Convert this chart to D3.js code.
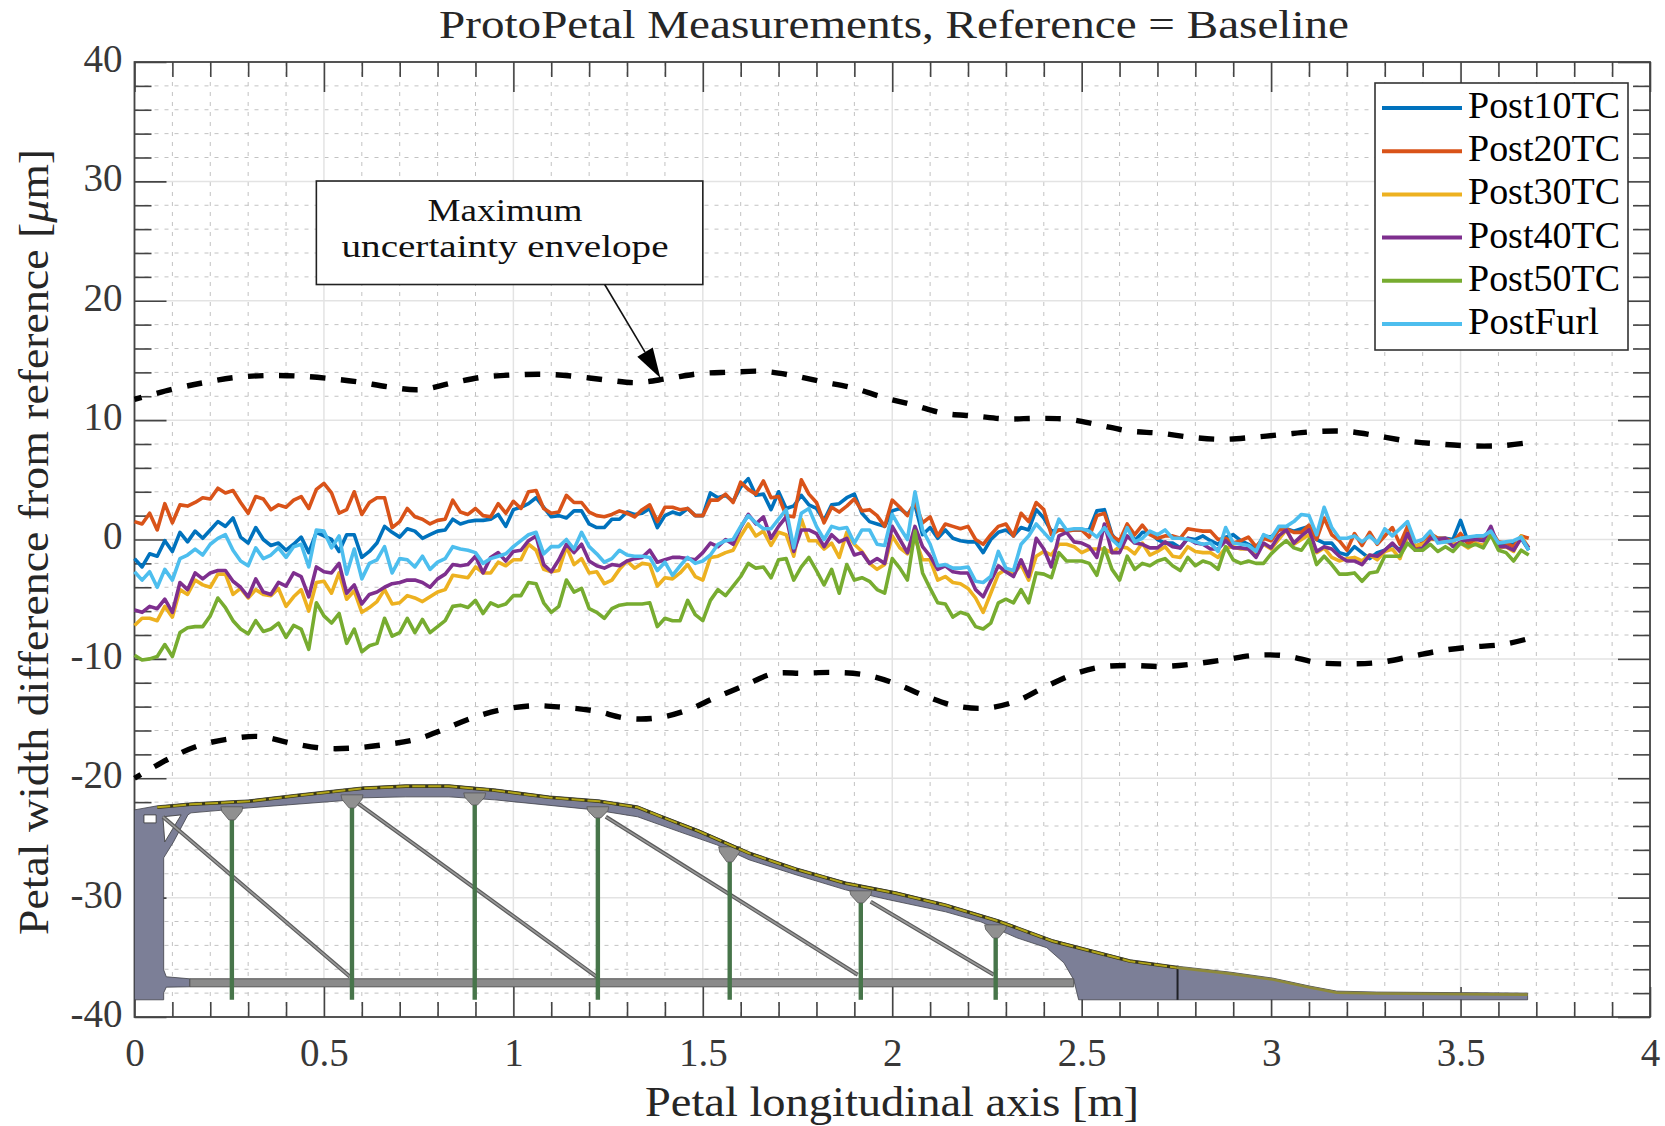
<!DOCTYPE html>
<html>
<head>
<meta charset="utf-8">
<script src="https://cdn.jsdelivr.net/npm/d3@7"></script>
<style>
  html, body { margin: 0; padding: 0; background: #fff; }
  svg { display: block; }
  text { font-family: "Liberation Serif", "DejaVu Serif", serif; }
</style>
</head>
<body>
<svg id="chart" width="1665" height="1126"></svg>
<script>
'use strict'

// petal width difference, micrometres, one sample every 0.02 m
const sampleStep = 0.02

const post10TC = [
  -1.6, -2.3, -1.2, -1.4, -0.1, -1.0, 0.6, -0.2, 0.7, 0.1, 0.8, 1.5, 1.1, 1.8, 0.2, -0.3, 1.0, 0, -0.5, -0.3, -0.9, -0.4, 0.2, -1.1, 0.6, 0.3, 0, -1.0, 0.4, 0.4, -1.5, -1.0, -0.3, 1.1, 0.6, 0.2, 0.9, 0.7, 0.1, 0.4, 0.7, 0.8, 1.7, 1.3, 1.5, 1.6, 1.6, 1.7, 2.1, 1.1, 2.5, 2.7, 3.0, 3.5,
  2.7, 1.9, 2.0, 1.8, 2.4, 2.4, 1.3, 1.0, 1.0, 1.7, 1.7, 2.3, 2.1, 2.2, 2.6, 1.0, 2.0, 2.3, 2.1, 2.6, 2.0, 2.0, 3.9, 3.5, 3.7, 3.2, 4.4, 5.1, 3.7, 3.8, 2.5, 4.0, 2.6, 2.8, 3.7, 2.9, 2.6, 1.6, 2.9, 3.0, 3.5, 3.8, 2.2, 1.5, 1.3, 1.1, 2.4, 2.6, 2.1, 2.9, 0.4, 1.0, 0.1,
  0.8, 0.1, -0.1, -0.2, -0.2, -1.1, 0, 0.6, 0.8, 0.3, 1.0, 0.8, 2.5, 1.8, 0.7, 0.8, 0.8, 0.8, 0.8, 0.8, 2.4, 2.5, 0.4, -0.4, 1.1, -0.1, 0.6, 0.6, 0, -0.3, -0.3, -0.7, 0.1, 0, 0.3, -0.1, -0.4, 0.2, 0.4, -0.1, -0.4, -0.8, 0.3, 0.2, 0.8, 0.9, 0.7, 0.9, 1.1, 0, -0.3, -0.3, -1.1,
  -1.3, -0.6, -1.1, -1.6, -1.1, -0.9, -0.4, -0.9, 0.5, -0.6, -0.3, 0.3, 0.1, 0.1, 0, 1.6, -0.2, 0, 0.1, 0.5, -0.3, -0.4, -0.4, 0.1, -0.9
]
const post20TC = [
  1.5, 1.3, 2.2, 0.8, 3.0, 1.4, 2.9, 2.8, 3.1, 3.5, 3.4, 4.3, 3.9, 4.1, 3.1, 2.2, 3.6, 3.4, 2.5, 2.9, 2.7, 3.3, 3.6, 2.6, 4.2, 4.7, 3.9, 2.2, 2.5, 4.0, 2.1, 3.1, 3.5, 3.5, 1.0, 1.5, 2.6, 1.9, 1.7, 1.3, 1.6, 1.7, 3.3, 2.3, 2.1, 2.6, 2.0, 1.9, 3.0, 2.2, 3.2, 2.6, 4.0, 4.1,
  2.6, 2.2, 2.3, 3.7, 3.1, 3.1, 2.3, 2.0, 1.9, 2.1, 2.4, 2.2, 1.9, 2.5, 2.9, 1.5, 2.7, 2.7, 2.5, 2.6, 2.0, 2.0, 3.3, 3.3, 3.8, 3.1, 4.8, 4.2, 3.8, 4.9, 3.5, 3.6, 2.0, 1.9, 5.0, 3.8, 3.1, 1.4, 2.7, 2.3, 2.8, 3.4, 2.4, 2.5, 2.0, 1.1, 3.3, 2.7, 2.0, 3.1, 1.4, 1.9, 0.3,
  1.3, 1.1, 0.9, 1.1, 0, -0.4, 0.4, 1.1, 1.3, 0.3, 2.2, 1.5, 3.1, 2.5, 0.4, 0.8, 0.7, 0.8, 0.8, 0.2, 2.0, 2.2, 0.3, -0.1, 1.3, 0.4, 1.2, 0.4, 0.1, 0.3, 0.3, 0.1, 0.9, 0.8, 0.7, 0.7, 0, 0.1, -0.3, -0.1, 0.2, -0.6, 0.1, -0.1, 0.8, 0.9, 0.6, 0.6, 1.2, 0, 1.8, 0.4, -0.1,
  -0.9, 0.5, -0.5, 0.6, -0.4, 0.3, 1.0, -0.4, 1.1, -0.7, -0.3, 0.5, 0.1, 0.1, -0.2, 0.5, -0.4, 0, 0.1, 0.8, -0.2, -0.3, -0.6, 0.3, 0.1
]
const post30TC = [
  -7.2, -6.6, -6.6, -6.8, -5.6, -6.5, -4.2, -4.6, -3.4, -3.8, -4.0, -2.9, -2.9, -4.6, -4.1, -4.9, -4.2, -4.6, -4.7, -4.1, -5.6, -4.8, -4.2, -6.0, -3.6, -3.5, -4.5, -2.8, -5.0, -4.3, -6.1, -5.7, -5.2, -4.2, -5.4, -5.3, -4.7, -4.9, -5.2, -4.8, -4.4, -4.2, -3.0, -3.1, -3.2, -2.3, -2.8, -2.8, -1.9, -2.2, -1.7, -1.7, -0.4, -0.9,
  -2.5, -2.7, -2.6, -0.6, -2.1, -1.6, -2.8, -2.7, -3.7, -3.4, -2.5, -1.8, -2.4, -2.0, -2.1, -3.9, -3.2, -3.3, -2.8, -2.1, -3.1, -3.4, -1.5, -1.4, -1.1, -0.9, 0.3, 1.3, 0.3, 0.7, -0.5, 0.6, 0.4, -1.4, 1.7, -0.1, -0.1, -0.8, -0.3, -1.5, 0.6, -0.4, -1.0, -2.0, -2.5, -2.1, 0.3, -0.7, -1.2, 0.1, -1.7, -1.7, -3.4,
  -3.1, -3.6, -3.7, -4.1, -4.9, -6.1, -4.5, -2.9, -2.5, -2.9, -2.1, -3.4, -1.4, -1.0, -1.3, -0.4, -0.4, -0.6, -1.1, -0.8, -0.8, -0.8, -1.1, -0.6, -0.7, -1.2, -0.3, -1.3, -1.0, -0.6, -1.4, -1.5, -0.6, -1.0, -1.1, -1.1, -1.5, -0.7, -0.6, -0.8, -0.8, -1.1, -0.4, -0.8, 0, 0.8, -0.4, 0, 0.4, -1.1, -0.7, -1.5, -1.8,
  -1.6, -1.5, -1.8, -1.3, -1.7, -1.0, -0.8, -1.6, 0.3, -0.5, -0.4, 0, 0, -0.2, -0.4, -0.3, -0.7, -0.3, -0.5, 0.4, -0.7, -0.6, -1.0, 0.3, -0.7
]
const post40TC = [
  -5.9, -6.1, -5.6, -5.8, -5.0, -6.1, -3.6, -4.2, -2.8, -3.3, -2.8, -2.6, -2.6, -3.5, -4.0, -4.8, -3.3, -4.4, -4.6, -3.6, -3.9, -2.8, -3.1, -4.8, -2.3, -2.7, -2.8, -2.0, -4.5, -3.8, -5.4, -4.6, -4.4, -4.0, -3.7, -3.6, -3.4, -3.4, -3.6, -4.0, -3.3, -2.9, -2.1, -2.2, -2.1, -1.4, -2.8, -1.5, -1.1, -1.8, -1.0, -0.9, -0.1, 0.3,
  -2.1, -2.7, -1.7, -0.4, -1.1, -0.4, -1.8, -2.2, -2.4, -2.1, -2.2, -1.8, -1.6, -1.5, -0.9, -1.9, -1.7, -1.5, -1.5, -1.6, -1.7, -1.1, -0.3, -0.6, 0, -0.4, 1.0, 2.1, 1.3, 1.9, 0.1, 1.1, 1.9, -1.0, 0.8, 0.8, 0.5, -0.6, 0.4, -0.2, 0.1, -1.3, -1.1, -2.0, -1.6, -2.0, 1.1, 0, -1.1, 1.1, -0.6, -1.4, -2.5,
  -2.2, -2.7, -2.8, -2.8, -4.2, -4.8, -3.5, -2.2, -2.7, -3.1, -1.7, -3.1, 0.1, -0.8, -2.3, 0.3, 0.6, -0.2, -0.3, -0.6, -1.5, 1.3, -1.1, -1.1, 0.3, -0.3, -0.4, -0.7, -0.7, -0.2, -0.6, -0.7, 0.1, -0.3, -0.4, -0.8, -0.8, -0.1, -0.7, -0.7, -0.8, -1.5, -0.3, -0.7, 0.3, 0.8, -0.3, 0.3, 0.8, -1.0, -0.6, -0.8, -1.4,
  -1.8, -1.8, -2.1, -1.3, -1.4, -0.9, -0.3, -1.0, 0.5, -0.9, -0.7, 0.1, 0, 0.1, -0.6, -0.2, 0, 0, -0.1, 1.1, -0.6, -0.6, -0.9, 0.1, -0.7
]
const post50TC = [
  -9.7, -10.1, -10.0, -9.8, -8.8, -9.8, -7.8, -7.4, -7.3, -7.3, -6.4, -4.9, -5.7, -6.8, -7.5, -7.9, -6.8, -7.7, -7.5, -7.0, -8.2, -7.2, -7.5, -9.2, -5.3, -6.4, -7.0, -6.2, -8.7, -7.5, -9.4, -8.9, -8.7, -6.6, -8.1, -7.8, -6.6, -7.8, -6.7, -7.8, -7.3, -6.8, -5.6, -5.5, -5.7, -5.1, -6.2, -5.3, -5.6, -5.4, -4.7, -4.7, -3.6, -3.7,
  -5.3, -6.1, -5.6, -3.4, -4.4, -4.1, -5.8, -6.1, -6.6, -5.8, -5.5, -5.4, -5.4, -5.4, -5.3, -7.3, -6.6, -6.8, -6.8, -5.1, -6.3, -6.8, -5.1, -4.2, -4.7, -3.9, -3.1, -2.0, -2.4, -2.3, -3.2, -1.7, -1.6, -3.4, -2.3, -1.5, -2.6, -3.8, -2.5, -4.5, -2.1, -3.4, -3.2, -3.5, -4.2, -4.5, -1.6, -2.4, -3.4, 0.7, -2.8, -4.1, -5.3,
  -5.4, -6.5, -6.1, -6.3, -7.3, -7.5, -7.0, -5.3, -5.0, -5.3, -4.2, -5.3, -2.8, -2.9, -3.2, -1.1, -1.8, -1.8, -1.8, -2.0, -3.0, -0.7, -2.5, -3.4, -1.4, -2.5, -2.0, -2.2, -1.8, -1.6, -2.2, -2.6, -1.5, -2.2, -1.8, -2.0, -2.5, -0.6, -1.7, -2.0, -1.8, -2.0, -2.0, -1.2, -0.6, -0.1, -0.7, -0.9, 0, -2.1, -1.4, -2.1, -2.9,
  -2.9, -2.8, -3.5, -2.8, -2.7, -1.4, -1.4, -1.4, -0.3, -0.9, -0.9, -0.4, -1.0, -0.6, -1.0, -0.3, -0.6, -0.4, -0.7, 0.4, -0.9, -1.1, -1.8, -0.9, -1.3
]
const postFurl = [
  -2.7, -3.4, -2.7, -4.0, -2.5, -3.4, -1.6, -1.3, -0.8, -1.3, -0.4, 0.1, 0.4, -0.9, -1.8, -2.2, -0.7, -1.6, -1.3, -0.7, -1.5, -0.6, -0.4, -2.3, 0.8, 0.7, -0.7, 0.3, -2.9, -0.8, -3.3, -2.0, -1.7, -0.6, -2.8, -1.6, -1.7, -2.3, -1.4, -2.5, -1.9, -1.6, -0.6, -0.8, -0.9, -1.1, -2.0, -1.6, -1.4, -1.2, -0.6, -0.1, 0.4, 0.6,
  -1.2, -0.6, -0.6, 0, -0.8, 0.6, -0.6, -1.2, -1.9, -1.6, -0.9, -1.3, -1.4, -1.4, -1.5, -2.6, -1.9, -3.0, -2.2, -1.5, -2.0, -1.8, -1.3, -0.4, -0.1, 0, 1.1, 2.0, 1.4, 0.9, 0.9, 1.7, 2.5, -0.7, 2.2, 2.6, 1.1, 0, 1.1, 0.9, 1.0, -0.3, 0.8, 0.8, -0.4, -0.5, 2.1, 1.0, 0, 4.0, 0.8, -0.4, -2.2,
  -2.1, -2.4, -2.4, -2.3, -3.5, -3.6, -3.1, -1.0, -2.4, -2.6, -0.4, 0.3, 1.3, 0.6, -0.1, 1.7, 0.8, 0.9, 0.9, 0.7, 0.2, 1.0, 0, -0.6, 1.0, -0.2, 0.1, 0.7, 0.4, 0.8, 0.1, 0.1, 0, -0.2, -0.4, -0.3, -1.0, 1.0, -0.3, -0.4, -0.5, -1.0, 0.4, 0.1, 1.1, 1.1, 1.5, 2.1, 2.0, 0.4, 2.7, 1.0, 0.1,
  0.1, 0.3, -0.2, 0.3, -0.3, 0.9, 0.3, 0.9, 1.5, -0.2, 0, 0.7, -0.3, -0.2, -0.1, 0.1, 0.2, 0.3, 0.3, 0.7, -0.3, -0.2, -0.1, 0.2, -0.9
]

const seriesNames = ['Post10TC', 'Post20TC', 'Post30TC', 'Post40TC', 'Post50TC', 'PostFurl']
const seriesValues = [post10TC, post20TC, post30TC, post40TC, post50TC, postFurl]
const seriesColors = ['#0072bd', '#d95319', '#edb120', '#7e2f8e', '#77ac30', '#4dbeee']
const legendWidths = [152, 152, 152, 152, 152, 131]

// uncertainty envelope, [m, micrometres]
const envelopeUpper = [
  [0, 11.74], [0.1, 12.58], [0.183, 13.14], [0.262, 13.56], [0.345, 13.73], [0.426, 13.7], [0.51, 13.5], [0.591, 13.2],
  [0.671, 12.78], [0.754, 12.55], [0.834, 13.08], [0.916, 13.59], [0.999, 13.78], [1.08, 13.84], [1.162, 13.67],
  [1.246, 13.36], [1.326, 13.14], [1.407, 13.48], [1.489, 13.89], [1.571, 14.01], [1.655, 14.09], [1.735, 13.75],
  [1.814, 13.22], [1.896, 12.7], [1.977, 11.9], [2.055, 11.27], [2.136, 10.57], [2.217, 10.35], [2.299, 10.1],
  [2.383, 10.15], [2.465, 10.07], [2.544, 9.6], [2.625, 9.09], [2.707, 8.9], [2.79, 8.56], [2.871, 8.39], [2.953, 8.56],
  [3.034, 8.81], [3.117, 9.04], [3.199, 9.06], [3.282, 8.67], [3.364, 8.23], [3.444, 8.0], [3.527, 7.84], [3.609, 7.86], [3.677, 8.1]
]
const envelopeLower = [
  [0, -20], [0.089, -18.4], [0.167, -17.29], [0.246, -16.73], [0.33, -16.5], [0.414, -17.06], [0.495, -17.48], [0.574, -17.48],
  [0.657, -17.2], [0.739, -16.78], [0.813, -15.95], [0.889, -14.97], [0.968, -14.27], [1.052, -13.93], [1.13, -14.05],
  [1.214, -14.35], [1.298, -14.97], [1.374, -14.97], [1.456, -14.33], [1.53, -13.29], [1.608, -12.26], [1.685, -11.25],
  [1.764, -11.2], [1.847, -11.14], [1.929, -11.34], [2.01, -12.09], [2.086, -13.1], [2.163, -13.91], [2.244, -14.13],
  [2.325, -13.57], [2.397, -12.45], [2.474, -11.34], [2.55, -10.69], [2.631, -10.55], [2.713, -10.64], [2.796, -10.42],
  [2.875, -10.08], [2.957, -9.7], [3.04, -9.75], [3.119, -10.3], [3.203, -10.42], [3.286, -10.3], [3.37, -9.8], [3.45, -9.3],
  [3.53, -9.0], [3.61, -8.8], [3.68, -8.3]
]

const xTicks = [0, 0.5, 1, 1.5, 2, 2.5, 3, 3.5, 4]
const yTicks = [-40, -30, -20, -10, 0, 10, 20, 30, 40]
const xMinorTicks = d3.range(0, 40).filter((d) => d % 5 !== 0).map((d) => d / 10)
const yMinorTicks = d3.range(-40, 40, 2).filter((d) => d % 10 !== 0)

// petal sketch outlines in axis units, [m, micrometres]
const petalTopEdge = [
  [0, -22.65], [0.06, -22.31], [0.149, -22.06], [0.302, -21.81], [0.434, -21.31], [0.603, -20.72], [0.716, -20.55], [0.83, -20.55],
  [0.951, -20.89], [1.094, -21.48], [1.226, -21.81], [1.328, -22.31], [1.387, -23.06], [1.49, -24.32], [1.622, -26.16], [1.746, -27.5],
  [1.877, -28.68], [2.01, -29.51], [2.141, -30.52], [2.281, -31.86], [2.424, -33.53], [2.627, -35.2], [2.751, -35.74], [2.891, -36.24],
  [3.004, -36.74], [3.102, -37.41], [3.173, -37.83], [3.279, -37.91], [3.677, -38.0]
]
const petalUnderside = [
  [3.677, -38.56], [2.492, -38.56], [2.479, -36.88], [2.453, -35.46], [2.408, -34.2], [2.329, -33.37], [2.234, -32.03], [2.141, -31.19],
  [1.991, -30.18], [1.877, -29.35], [1.746, -28.09], [1.622, -26.83], [1.537, -25.58], [1.439, -24.49], [1.328, -23.23], [1.215, -22.65],
  [0.951, -21.81], [0.83, -21.56], [0.716, -21.56], [0.603, -21.64], [0.545, -21.89], [0.302, -22.48], [0.149, -22.9], [0.141, -23.07],
  [0.103, -25.33], [0.077, -26.67], [0.077, -36.05], [0.084, -36.63], [0.146, -36.8], [0.146, -37.47], [0.084, -37.5], [0.077, -37.97],
  [0.077, -38.56], [0, -38.56]
]
const petalCutouts = [
  [[0.075, -23.23], [0.123, -23.07], [0.08, -25.33]],
  [[0.025, -23.07], [0.057, -23.07], [0.057, -23.74], [0.025, -23.74]]
]
const crossBar = [[0.146, -36.8], [2.479, -36.8], [2.479, -37.47], [0.146, -37.47]]
const strutX = [0.257, 0.574, 0.898, 1.223, 1.571, 1.917, 2.273]
const hubTop = [-22.39, -21.39, -21.23, -22.39, -25.74, -29.43, -32.28]
const hubBottom = [-23.49, -22.48, -22.23, -23.32, -27.0, -30.43, -33.37]
const diagonals = [
  [[0.075, -23.23], [0.569, -36.63]],
  [[0.588, -22.06], [1.22, -36.63]],
  [[1.244, -23.23], [1.909, -36.46]],
  [[1.943, -30.35], [2.268, -36.46]]
]
const petalBottom = -38.56
const jointX = 2.753

// annotation box and arrow in axis units
const noteBox = { x0: 0.48, x1: 1.5, y0: 30.03, y1: 21.36 }
const noteArrow = [[1.241, 21.36], [1.388, 13.53]]

const svg = d3.select('#chart')
const plotLeft = 134.5
const plotRight = 1650
const plotTop = 62
const plotBottom = 1017

const x = d3.scaleLinear().domain([0, 4]).range([plotLeft, plotRight])
const y = d3.scaleLinear().domain([-40, 40]).range([plotBottom, plotTop])
const toPoint = (d) => [x(d[0]), y(d[1])]
const outline = d3.line().x((d) => x(d[0])).y((d) => y(d[1]))

// grid
const grid = svg.append('g')
grid.selectAll('line.xminor').data(xMinorTicks).enter().append('line')
  .attr('class', 'xminor')
  .attr('x1', (d) => x(d)).attr('x2', (d) => x(d)).attr('y1', plotTop).attr('y2', plotBottom)
  .style('stroke', '#c2c2c2').style('stroke-width', 1).style('stroke-dasharray', '4 6')
grid.selectAll('line.yminor').data(yMinorTicks).enter().append('line')
  .attr('class', 'yminor')
  .attr('y1', (d) => y(d)).attr('y2', (d) => y(d)).attr('x1', plotLeft).attr('x2', plotRight)
  .style('stroke', '#c2c2c2').style('stroke-width', 1).style('stroke-dasharray', '4 6')
grid.selectAll('line.xmajor').data(xTicks).enter().append('line')
  .attr('class', 'xmajor')
  .attr('x1', (d) => x(d)).attr('x2', (d) => x(d)).attr('y1', plotTop).attr('y2', plotBottom)
  .style('stroke', '#e3e3e3').style('stroke-width', 1.5)
grid.selectAll('line.ymajor').data(yTicks).enter().append('line')
  .attr('class', 'ymajor')
  .attr('y1', (d) => y(d)).attr('y2', (d) => y(d)).attr('x1', plotLeft).attr('x2', plotRight)
  .style('stroke', '#e3e3e3').style('stroke-width', 1.5)

// axes with inward ticks on all four sides
const axisGroup = (axis, tx, ty) => {
  const g = svg.append('g').attr('transform', `translate(${tx},${ty})`).call(axis)
  g.select('.domain').remove()
  g.selectAll('line').style('stroke', '#444').style('stroke-width', 1.6)
  g.selectAll('text').style('font-family', '"Liberation Serif", serif').style('font-size', '39px').style('fill', '#383838')
  return g
}
const noLabel = () => ''
axisGroup(d3.axisBottom(x).tickValues(xTicks).tickSize(-30).tickPadding(21).tickFormat((d) => String(d)), 0, plotBottom)
axisGroup(d3.axisBottom(x).tickValues(xMinorTicks).tickSize(-15).tickFormat(noLabel), 0, plotBottom)
axisGroup(d3.axisTop(x).tickValues(xTicks).tickSize(-30).tickFormat(noLabel), 0, plotTop)
axisGroup(d3.axisTop(x).tickValues(xMinorTicks).tickSize(-15).tickFormat(noLabel), 0, plotTop)
axisGroup(d3.axisLeft(y).tickValues(yTicks).tickSize(-32).tickPadding(12).tickFormat((d) => String(d)), plotLeft, 0)
  .selectAll('text').attr('dy', '0.24em')
axisGroup(d3.axisLeft(y).tickValues(yMinorTicks).tickSize(-17).tickFormat(noLabel), plotLeft, 0)
axisGroup(d3.axisRight(y).tickValues(yTicks).tickSize(-32).tickFormat(noLabel), plotRight, 0)
axisGroup(d3.axisRight(y).tickValues(yMinorTicks).tickSize(-17).tickFormat(noLabel), plotRight, 0)

// box around the plot
svg.append('rect')
  .attr('x', plotLeft).attr('y', plotTop).attr('width', plotRight - plotLeft).attr('height', plotBottom - plotTop)
  .style('fill', 'none').style('stroke', '#444').style('stroke-width', 1.8)

// petal sketch
const petal = svg.append('g')
petal.append('path')
  .attr('d', outline(petalTopEdge.concat(petalUnderside)) + 'Z')
  .style('fill', '#7c7f97').style('stroke', '#3f4048').style('stroke-width', 0.8)
petal.selectAll('path.cutout').data(petalCutouts).enter().append('path')
  .attr('class', 'cutout')
  .attr('d', (d) => outline(d) + 'Z')
  .style('fill', '#fff').style('stroke', '#333').style('stroke-width', 0.8)
petal.append('path')
  .attr('d', outline(crossBar) + 'Z')
  .style('fill', '#8a8a8a').style('stroke', '#555').style('stroke-width', 1)
petal.selectAll('line.diagonal').data(diagonals).enter().append('line')
  .attr('class', 'diagonal')
  .attr('x1', (d) => x(d[0][0])).attr('y1', (d) => y(d[0][1]))
  .attr('x2', (d) => x(d[1][0])).attr('y2', (d) => y(d[1][1]))
  .style('stroke', '#5c5c5c').style('stroke-width', 4)
petal.selectAll('line.diagonalcore').data(diagonals).enter().append('line')
  .attr('class', 'diagonalcore')
  .attr('x1', (d) => x(d[0][0])).attr('y1', (d) => y(d[0][1]))
  .attr('x2', (d) => x(d[1][0])).attr('y2', (d) => y(d[1][1]))
  .style('stroke', '#9a9a9a').style('stroke-width', 1.6)
petal.selectAll('line.strut').data(strutX).enter().append('line')
  .attr('class', 'strut')
  .attr('x1', (d) => x(d)).attr('x2', (d) => x(d))
  .attr('y1', (d, i) => y(hubBottom[i])).attr('y2', y(petalBottom))
  .style('stroke', '#47754a').style('stroke-width', 4.4)
petal.selectAll('path.hub').data(strutX).enter().append('path')
  .attr('class', 'hub')
  .attr('d', (d, i) => {
    const t = y(hubTop[i])
    const b = y(hubBottom[i])
    const m = t + (b - t) * 0.35
    return `M${x(d) - 11},${t}L${x(d) + 11},${t}L${x(d) + 10},${m}L${x(d) + 3},${b}L${x(d) - 3},${b}L${x(d) - 10},${m}Z`
  })
  .style('fill', '#909090').style('stroke', '#555').style('stroke-width', 0.8)
petal.append('line')
  .attr('x1', x(jointX)).attr('x2', x(jointX)).attr('y1', y(-35.7)).attr('y2', y(petalBottom))
  .style('stroke', '#1f2026').style('stroke-width', 2)

// strip along the petal edge, black then yellow segments
const stripLine = d3.line().x((d) => x(d[0])).y((d) => y(d[1]) + 1.5)
petal.append('path').attr('d', stripLine(petalTopEdge.slice(1, 23)))
  .style('fill', 'none').style('stroke', '#3a3816').style('stroke-width', 3.4)
petal.append('path').attr('d', stripLine(petalTopEdge.slice(1, 23)))
  .style('fill', 'none').style('stroke', '#b3a61a').style('stroke-width', 2).style('stroke-dasharray', '13 3')
petal.append('path').attr('d', stripLine(petalTopEdge.slice(22)))
  .style('fill', 'none').style('stroke', '#8e8a3a').style('stroke-width', 2.6)

// measurements
const sampleLine = d3.line().x((d, i) => x(i * sampleStep)).y((d) => y(d))
svg.selectAll('path.series').data(seriesValues).enter().append('path')
  .classed('series', true)
  .attr('d', sampleLine)
  .style('fill', 'none')
  .style('stroke', (d, i) => seriesColors[i])
  .style('stroke-width', 3.6)
  .style('stroke-linejoin', 'round')

// envelope
const envelopeLine = d3.line().x((d) => x(d[0])).y((d) => y(d[1])).curve(d3.curveCatmullRom)
svg.selectAll('path.envelope').data([envelopeUpper, envelopeLower]).enter().append('path')
  .classed('envelope', true)
  .attr('d', envelopeLine)
  .style('fill', 'none')
  .style('stroke', '#000')
  .style('stroke-width', 5.4)
  .style('stroke-dasharray', '15.5 15.5')
  .style('stroke-dashoffset', 8)

// annotation
svg.append('rect')
  .attr('x', x(noteBox.x0)).attr('y', y(noteBox.y0))
  .attr('width', x(noteBox.x1) - x(noteBox.x0)).attr('height', y(noteBox.y1) - y(noteBox.y0))
  .style('fill', '#fff').style('stroke', '#222').style('stroke-width', 1.6)
svg.append('text').attr('x', 505).attr('y', 221).attr('text-anchor', 'middle')
  .attr('textLength', 155).attr('lengthAdjust', 'spacingAndGlyphs')
  .style('font-size', '32px').style('fill', '#111').text('Maximum')
svg.append('text').attr('x', 505).attr('y', 257).attr('text-anchor', 'middle')
  .attr('textLength', 327).attr('lengthAdjust', 'spacingAndGlyphs')
  .style('font-size', '32px').style('fill', '#111').text('uncertainty envelope')

const [arrowStart, arrowTip] = noteArrow.map(toPoint)
const arrowAngle = Math.atan2(arrowTip[1] - arrowStart[1], arrowTip[0] - arrowStart[0])
const headLength = 30
const headHalf = 9
const headBase = [arrowTip[0] - headLength * Math.cos(arrowAngle), arrowTip[1] - headLength * Math.sin(arrowAngle)]
svg.append('line')
  .attr('x1', arrowStart[0]).attr('y1', arrowStart[1]).attr('x2', headBase[0]).attr('y2', headBase[1])
  .style('stroke', '#111').style('stroke-width', 1.6)
svg.append('path')
  .attr('d', d3.line()([
    arrowTip,
    [headBase[0] + headHalf * Math.sin(arrowAngle), headBase[1] - headHalf * Math.cos(arrowAngle)],
    [headBase[0] - headHalf * Math.sin(arrowAngle), headBase[1] + headHalf * Math.cos(arrowAngle)]
  ]) + 'Z')
  .style('fill', '#000')

// legend
const legend = svg.append('g')
legend.append('rect').attr('x', 1375).attr('y', 83).attr('width', 253).attr('height', 267)
  .style('fill', '#fff').style('stroke', '#333').style('stroke-width', 1.6)
const legendRow = d3.scalePoint().domain(seriesNames).range([108, 324])
legend.selectAll('line.key').data(seriesNames).enter().append('line')
  .attr('class', 'key')
  .attr('x1', 1382).attr('x2', 1462)
  .attr('y1', (d) => legendRow(d)).attr('y2', (d) => legendRow(d))
  .style('stroke', (d, i) => seriesColors[i]).style('stroke-width', 4)
legend.selectAll('text.key').data(seriesNames).enter().append('text')
  .attr('class', 'key')
  .attr('x', 1468).attr('y', (d) => legendRow(d) + 10)
  .attr('textLength', (d, i) => legendWidths[i]).attr('lengthAdjust', 'spacingAndGlyphs')
  .style('font-size', '38px').style('fill', '#000').text((d) => d)

// title and axis labels
svg.append('text').attr('x', 439).attr('y', 38)
  .attr('textLength', 910).attr('lengthAdjust', 'spacingAndGlyphs')
  .style('font-size', '41px').style('fill', '#262626')
  .text('ProtoPetal Measurements, Reference = Baseline')
svg.append('text').attr('x', 645).attr('y', 1116)
  .attr('textLength', 494).attr('lengthAdjust', 'spacingAndGlyphs')
  .style('font-size', '42px').style('fill', '#262626')
  .text('Petal longitudinal axis [m]')
const yLabel = svg.append('text').attr('transform', 'translate(48,935) rotate(-90)')
  .attr('textLength', 786).attr('lengthAdjust', 'spacingAndGlyphs')
  .style('font-size', '42px').style('fill', '#262626')
yLabel.append('tspan').text('Petal width difference from reference [')
yLabel.append('tspan').style('font-style', 'italic').text('\u03bc')
yLabel.append('tspan').text('m]')
</script>
</body>
</html>
